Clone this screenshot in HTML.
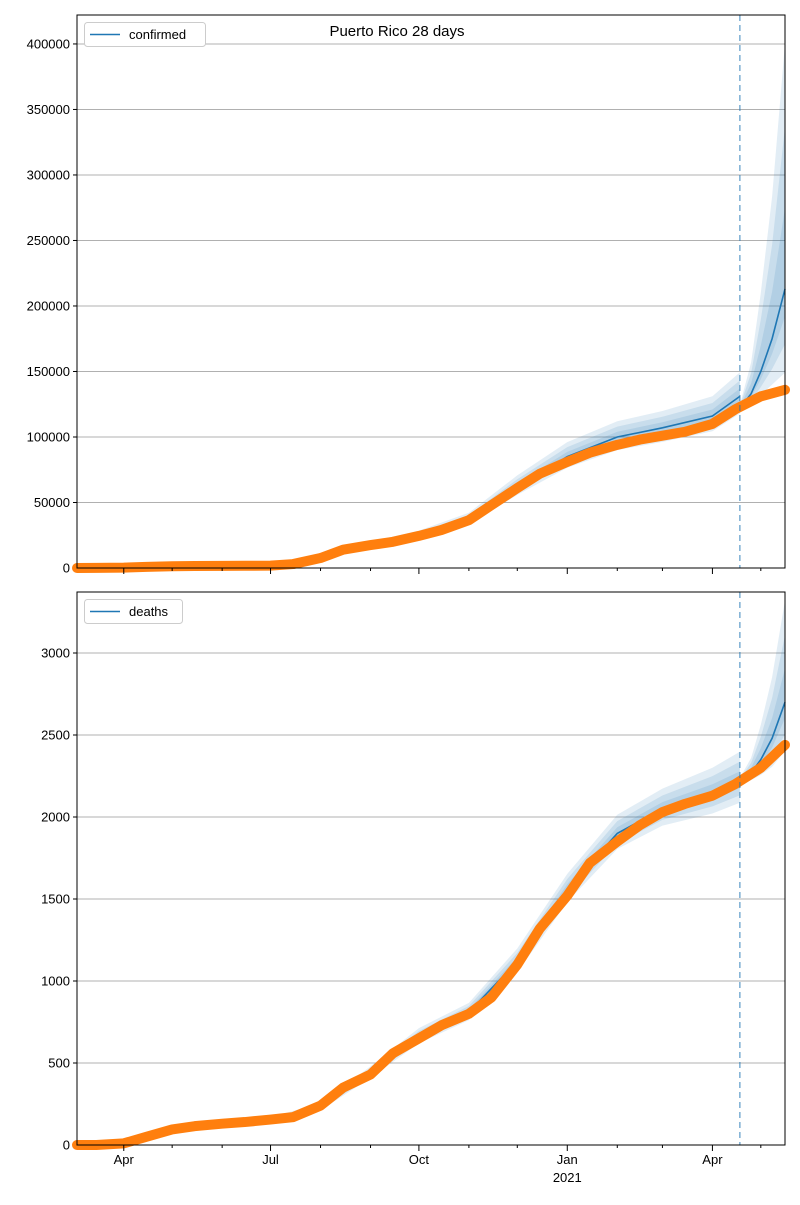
<!DOCTYPE html>
<html><head><meta charset="utf-8"><style>
body{margin:0;background:#fff;font-family:"Liberation Sans",sans-serif}
svg text{font-family:"Liberation Sans",sans-serif;font-size:13px;fill:#000}
</style></head><body>
<svg id="c" width="800" height="1200" xmlns="http://www.w3.org/2000/svg"></svg>
<script>
// ---- data ----
const obsDates = ["2020-03-03","2020-03-15","2020-04-01","2020-04-15","2020-05-01","2020-05-15","2020-06-01","2020-06-15","2020-07-01","2020-07-15","2020-08-01","2020-08-15","2020-09-01","2020-09-15","2020-10-01","2020-10-15","2020-11-01","2020-11-15","2020-12-01","2020-12-15","2021-01-01","2021-01-15","2021-02-01","2021-02-15","2021-03-01","2021-03-15","2021-04-01","2021-04-15","2021-05-01","2021-05-16"];
const confirmedObs = [0,50,300,900,1300,1500,1600,1700,1800,3000,7600,14000,17500,20000,24500,29000,36500,48000,61000,72000,81000,88000,94000,98000,101000,104000,110000,121000,131000,136000];
const deathsObs = [0,0,10,50,95,115,130,140,155,170,240,350,430,560,650,730,800,900,1100,1320,1520,1720,1850,1950,2030,2080,2130,2200,2300,2440];
const fitDates = ["2020-07-01","2020-08-01","2020-09-01","2020-10-01","2020-11-01","2020-12-01","2021-01-01","2021-02-01","2021-03-01","2021-04-01","2021-04-18"];
const confirmedFit = [1800,8000,17500,25000,37000,62000,85000,100000,107000,116000,131000];
const confirmedFitHi = [0.15,0.15,0.15,0.14,0.14,0.14,0.13,0.12,0.12,0.13,0.14];
const confirmedFitLo = [0.10,0.10,0.10,0.10,0.10,0.10,0.10,0.10,0.10,0.10,0.10];
const deathsFit = [155,230,440,660,810,1120,1560,1900,2050,2150,2220];
const deathsFitHi = [0.10,0.10,0.09,0.08,0.07,0.07,0.06,0.06,0.06,0.07,0.08];
const deathsFitLo = [0.08,0.08,0.07,0.06,0.06,0.06,0.05,0.05,0.05,0.06,0.06];
const fcDates = ["2021-04-18","2021-04-25","2021-05-01","2021-05-08","2021-05-16"];
const confirmedFc = [122000,133000,150000,175000,213000];
const confirmedFcHi = [0.02,0.18,0.40,0.62,0.88];
const confirmedFcLo = [0.02,0.06,0.12,0.20,0.30];
const deathsFc = [2215,2270,2350,2480,2700];
const deathsFcHi = [0.01,0.04,0.09,0.15,0.23];
const deathsFcLo = [0.01,0.02,0.04,0.07,0.11];
const confTicks = [0,50000,100000,150000,200000,250000,300000,350000,400000];
const deathTicks = [0,500,1000,1500,2000,2500,3000];
const xTickDates = ["2020-04-01","2020-07-01","2020-10-01","2021-01-01","2021-04-01"];
const xTickLabels = ["Apr","Jul","Oct","Jan","Apr"];
const minorDates = ["2020-05-01","2020-06-01","2020-08-01","2020-09-01","2020-11-01","2020-12-01","2021-02-01","2021-03-01","2021-05-01"];
const cutDate = "2021-04-18";

const svg = document.getElementById('c');
const NS = "http://www.w3.org/2000/svg";
const X0=77,X1=785, D0=Date.UTC(2020,2,3), D1=Date.UTC(2021,4,16);
const xs = d => X0 + (Date.parse(d)-D0)/(D1-D0)*(X1-X0);
function mk(tag, attrs, parent){const e=document.createElementNS(NS,tag);for(const k in attrs)e.setAttribute(k,attrs[k]);(parent||svg).appendChild(e);return e;}

function panel(top,bot,ymax,ticks,obs,fit,fHi,fLo,fc,cHi,cLo,label,showX,prefix){
  const ys = v => bot - v/ymax*(bot-top);
  const g = mk('g',{});
  
  
  ticks.forEach(t=>{
    const l=mk('line',{x1:X0,x2:X1,y1:ys(t),y2:ys(t),stroke:'#b0b0b0','stroke-width':1},g);
    
    
    mk('line',{x1:X0-4,x2:X0,y1:ys(t),y2:ys(t),stroke:'#000'},g);
    const tx=mk('text',{x:X0-7,y:ys(t)+4.5,'text-anchor':'end'},g);tx.textContent=t;
    
    
  });
  function band(dates,mean,hi,lo,f){
    const up=dates.map((d,i)=>xs(d)+','+ys(mean[i]*(1+hi[i]*f))).join(' ');
    const dn=dates.map((d,i)=>xs(d)+','+ys(mean[i]*(1-lo[i]*f))).reverse().join(' ');
    const p=mk('polygon',{points:up+' '+dn,fill:'#1f77b4','fill-opacity':0.13},g);
    
    
  }
  [1,0.66,0.33].forEach(f=>{band(fitDates,fit,fHi,fLo,f);band(fcDates,fc,cHi,cLo,f);});
  const lp=mk('polyline',{points:fitDates.map((d,i)=>xs(d)+','+ys(fit[i])).join(' '),fill:'none',stroke:'#1f77b4','stroke-width':1.6},g);
  
  
  const lf=mk('polyline',{points:fcDates.map((d,i)=>xs(d)+','+ys(fc[i])).join(' '),fill:'none',stroke:'#1f77b4','stroke-width':1.6},g);
  
  
  const ob=mk('polyline',{points:obsDates.map((d,i)=>xs(d)+','+ys(obs[i])).join(' '),fill:'none',stroke:'#ff7f0e','stroke-width':10,'stroke-linejoin':'round','stroke-linecap':'round'},g);
  
  
  const cl=mk('line',{x1:xs(cutDate),x2:xs(cutDate),y1:top,y2:bot,stroke:'#1f77b4','stroke-opacity':0.55,'stroke-width':1.6,'stroke-dasharray':'6,4'},g);
  
  
  mk('rect',{x:X0,y:top,width:X1-X0,height:bot-top,fill:'none',stroke:'#000','stroke-width':1},g);
  xTickDates.forEach((d,i)=>{
    mk('line',{x1:xs(d),x2:xs(d),y1:bot,y2:bot+6,stroke:'#000'},g);
    if(showX){const t=mk('text',{x:xs(d),y:bot+19,'text-anchor':'middle'},g);t.textContent=xTickLabels[i];
      
      }
  });
  minorDates.forEach(d=>mk('line',{x1:xs(d),x2:xs(d),y1:bot,y2:bot+3,stroke:'#000'},g));
  const lg=mk('g',{},g);
  
  
  const w = label==='confirmed'?121:98;
  mk('rect',{x:84.5,y:top+7.5,width:w,height:24,rx:3,fill:'#fff',stroke:'#ccc'},lg);
  mk('line',{x1:90,x2:120,y1:top+19.5,y2:top+19.5,stroke:'#1f77b4','stroke-width':1.6},lg);
  const lt=mk('text',{x:129,y:top+24},lg);lt.textContent=label;
  
  
}
panel(15,568,422100,confTicks,confirmedObs,confirmedFit,confirmedFitHi,confirmedFitLo,confirmedFc,confirmedFcHi,confirmedFcLo,'confirmed',false,'confirmed');
panel(592,1145,3372,deathTicks,deathsObs,deathsFit,deathsFitHi,deathsFitLo,deathsFc,deathsFcHi,deathsFcLo,'deaths',true,'deaths');
const title=mk('text',{x:397,y:36,'text-anchor':'middle'});title.textContent='Puerto Rico 28 days';
title.setAttribute('style','font-size:15px');


const yr=mk('text',{x:xs("2021-01-01"),y:1182,'text-anchor':'middle'});yr.textContent='2021';


</script>
</body></html>
